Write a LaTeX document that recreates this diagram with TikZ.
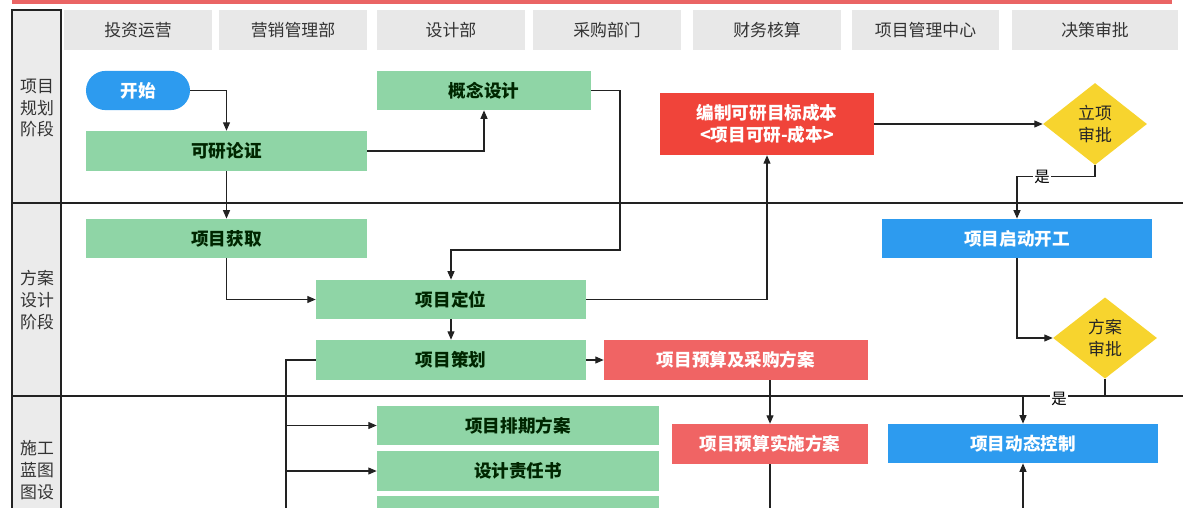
\documentclass[tikz,border=0pt]{standalone}
\usepackage{fontspec}
\setmainfont{Noto Sans CJK SC}
\usetikzlibrary{arrows.meta,shapes.geometric}

\definecolor{boxgreen}{HTML}{8FD5A6}
\definecolor{boxblue}{HTML}{2D9BEF}
\definecolor{boxred}{HTML}{F0443A}
\definecolor{boxcoral}{HTML}{F06464}
\definecolor{boxyellow}{HTML}{F7D42E}
\definecolor{cellgray}{HTML}{E8E8E8}
\definecolor{lanegray}{HTML}{EBEBEB}
\definecolor{barred}{HTML}{EA6464}
\definecolor{inkdark}{HTML}{222222}

\tikzset{
    headcell/.style={rectangle, fill=cellgray, minimum width=3.7cm, minimum height=1cm,
        inner sep=0pt, text=black!80, font=\fontsize{12}{15}\selectfont},
    flowbox/.style={rectangle, minimum height=1cm, inner sep=0pt, align=center,
        font=\fontsize{12.5}{15.5}\selectfont\bfseries},
    greenbox/.style={flowbox, fill=boxgreen, text=green!15!black},
    bluebox/.style={flowbox, fill=boxblue, text=white},
    redbox/.style={flowbox, fill=boxred, text=white},
    coralbox/.style={flowbox, fill=boxcoral, text=white},
    startbox/.style={bluebox, rounded corners=0.49cm, minimum width=2.6cm, minimum height=0.98cm},
    decision/.style={diamond, fill=boxyellow, minimum width=2.6cm, minimum height=2.05cm,
        inner sep=0pt, align=center, text=black!85, font=\fontsize{12}{15.5}\selectfont},
    phase/.style={align=center, text=black!80, font=\fontsize{12}{15.6}\selectfont},
    yeslabel/.style={fill=white, inner sep=1pt, font=\fontsize{11}{13}\selectfont},
    flow/.style={draw=inkdark, line width=0.75pt, -{Triangle[length=6pt,width=5pt]}},
    laneline/.style={draw=inkdark, line width=0.75pt}
}

\begin{document}
\begin{tikzpicture}[x=0.025cm, y=-0.025cm]

    % (x, y) in pixels of the page: x to the right, y downwards
    \useasboundingbox (0, 0) rectangle (1189, 507);
    \clip (0, 0) rectangle (1189, 507);

    % title bar, column of phases, lane lines
    \fill[barred] (12, -4) rectangle (1172, 4);
    \draw[laneline, fill=lanegray] (12, 10) rectangle (61, 530);
    \draw[laneline] (12, 203) -- (1183, 203);
    \draw[laneline] (12, 396) -- (1183, 396);

    \node[phase] (plan) at (37, 108) {项目\\规划\\阶段};
    \node[phase] (scheme) at (37, 300) {方案\\设计\\阶段};
    \node[phase] (build) at (37, 470.5) {施工\\蓝图\\图设};

    % departments
    \node[headcell] (invest) at (138, 30) {投资运营};
    \node[headcell] (market) at (293, 30) {营销管理部};
    \node[headcell] (design) at (451, 30) {设计部};
    \node[headcell] (purchase) at (607, 30) {采购部门};
    \node[headcell] (finance) at (767, 30) {财务核算};
    \node[headcell, minimum width=3.68cm] (pmo) at (925.5, 30) {项目管理中心};
    \node[headcell, minimum width=4.15cm] (decide) at (1095, 30) {决策审批};

    % planning
    \node[startbox] (start) at (138, 90.5) {开始};
    \node[greenbox, minimum width=7.03cm] (study) at (226.5, 151) {可研论证};
    \node[greenbox, minimum width=5.35cm, minimum height=0.98cm] (concept) at (484, 90.5) {概念设计};
    \node[redbox, minimum width=5.35cm, minimum height=1.55cm] (target) at (767, 124) {编制可研目标成本\\<项目可研-成本>};
    \node[decision] (approve) at (1095, 124) {立项\\审批};

    % scheme design
    \node[greenbox, minimum width=7.03cm, minimum height=0.98cm] (acquire) at (226.5, 238.5) {项目获取};
    \node[greenbox, minimum width=6.75cm, minimum height=0.98cm] (position) at (451, 299.5) {项目定位};
    \node[greenbox, minimum width=6.75cm] (planning) at (451, 360) {项目策划};
    \node[coralbox, minimum width=6.6cm] (budget) at (736, 360) {项目预算及采购方案};
    \node[bluebox, minimum width=6.75cm, minimum height=0.98cm] (kickoff) at (1017, 238.5) {项目启动开工};
    \node[decision, minimum height=2.03cm] (schemeok) at (1105, 338) {方案\\审批};

    % construction drawings
    \node[greenbox, minimum width=7.05cm, minimum height=0.98cm] (schedule) at (518, 425.5) {项目排期方案};
    \node[greenbox, minimum width=7.05cm] (duty) at (518, 471) {设计责任书};
    \node[greenbox, minimum width=7.05cm] (nextbox) at (518, 516) {};
    \node[coralbox, minimum width=4.9cm] (execute) at (770, 444) {项目预算实施方案};
    \node[bluebox, minimum width=6.75cm, minimum height=0.98cm] (control) at (1023, 443.5) {项目动态控制};

    \coordinate (trunk) at (286, 360);
    \coordinate (trunkend) at (286, 520);
    \coordinate (bend) at (620, 250);
    \coordinate (execend) at (770, 520);
    \coordinate (controlin) at (1023, 520);

    % connectors
    \draw[flow] (start.east) -| (study.north);
    \draw[flow] (study.east) -| (concept.south);
    \draw[flow] (study.south) -- (acquire.north);
    \draw[flow] (concept.east) -| (bend) -| (position.north);
    \draw[flow] (acquire.south) |- (position.west);
    \draw[flow] (position.east) -| (target.south);
    \draw[flow] (target.east) -- (approve.west);
    \draw[flow] (approve.south) -- ++(0, 11) -| (kickoff.north);
    \node[yeslabel] (yes1) at (1042, 177) {是};
    \draw[flow] (kickoff.south) |- (schemeok.west);
    \draw[flow] (schemeok.south) -- ++(0, 17.5) -| (control.north);
    \node[yeslabel] (yes2) at (1059, 399) {是};
    \draw[flow] (position.south) -- (planning.north);
    \draw[flow] (planning.east) -- (budget.west);
    \draw[laneline] (planning.west) -- (trunk) -- (trunkend);
    \draw[flow] (trunk |- schedule.west) -- (schedule.west);
    \draw[flow] (trunk |- duty.west) -- (duty.west);
    \draw[flow] (execute.north |- budget.south) -- (execute.north);
    \draw[laneline] (execute.south) -- (execend);
    \draw[flow] (controlin) -- (control.south);

\end{tikzpicture}
\end{document}
